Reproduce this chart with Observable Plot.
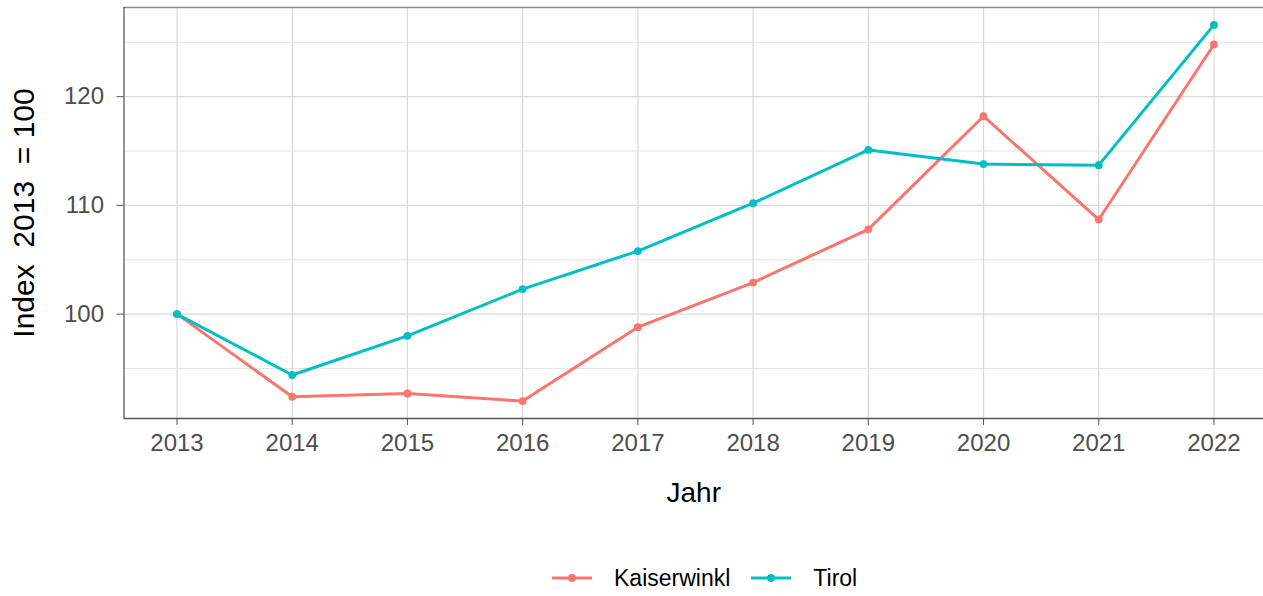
<!DOCTYPE html>
<html>
<head>
<meta charset="utf-8">
<script src="https://cdn.jsdelivr.net/npm/d3@7"></script>
<script src="https://cdn.jsdelivr.net/npm/@observablehq/plot@0.6"></script>
<style>
  html, body { margin: 0; padding: 0; background: #fff; }
  body { position: relative; width: 1263px; height: 596px; overflow: hidden; font-family: "Liberation Sans", Arial, sans-serif; }
  #legend { position: absolute; left: 551px; top: 563px; height: 30px; display: flex; align-items: center; font-size: 23px; color: #000; white-space: nowrap; }
  .item { display: flex; align-items: center; margin-right: 20px; }
  .item svg { margin-right: 21px; display: block; }
</style>
</head>
<body>
<div id="chart"></div>
<div id="legend"></div>
<script>
const years = [2013, 2014, 2015, 2016, 2017, 2018, 2019, 2020, 2021, 2022];
const kaiserwinkl = [100, 92.4, 92.7, 92.0, 98.8, 102.9, 107.8, 118.2, 108.7, 124.8];
const tirol = [100, 94.4, 98.0, 102.3, 105.8, 110.2, 115.1, 113.8, 113.7, 126.6];
const seriesNames = ["Kaiserwinkl", "Tirol"];
const seriesColors = ["#F8766D", "#00BFC4"];
const yMajor = [100, 110, 120];
const yMinor = [95, 105, 115, 125];
const xDomain = [2012.54, 2022.43];
const yDomain = [90.4, 128.2];

const data = [
  ...years.map((y, i) => ({year: y, value: kaiserwinkl[i], series: seriesNames[0]})),
  ...years.map((y, i) => ({year: y, value: tirol[i], series: seriesNames[1]}))
];

const plot = Plot.plot({
  width: 1263,
  height: 540,
  marginLeft: 123.5,
  marginRight: 0,
  marginTop: 7,
  marginBottom: 122,
  style: {fontFamily: "Liberation Sans, Arial, sans-serif", background: "#fff", overflow: "visible"},
  x: {domain: xDomain, label: null},
  y: {domain: yDomain, label: null},
  color: {domain: seriesNames, range: seriesColors},
  marks: [
    Plot.ruleY(yMinor, {stroke: "#e3e3e3", strokeWidth: 1}),
    Plot.ruleY(yMajor, {stroke: "#d9d9d9", strokeWidth: 1.2}),
    Plot.ruleX(years, {stroke: "#d9d9d9", strokeWidth: 1.2}),
    Plot.ruleY([yDomain[1]], {stroke: "#8a8a8a", strokeWidth: 1.3}),
    Plot.ruleX([xDomain[0]], {stroke: "#666", strokeWidth: 1.4}),
    Plot.ruleY([yDomain[0]], {stroke: "#555", strokeWidth: 1.4}),
    Plot.axisX({ticks: years, tickFormat: d => String(d), tickSize: 7, tickPadding: 8, fontSize: 24, color: "#4d4d4d", stroke: "#555", label: null}),
    Plot.axisY({ticks: yMajor, tickSize: 7, tickPadding: 13, fontSize: 24, color: "#4d4d4d", stroke: "#555", label: null}),
    Plot.line(data, {x: "year", y: "value", stroke: "series", strokeWidth: 3}),
    Plot.dot(data, {x: "year", y: "value", fill: "series", r: 3.9}),
    Plot.text(["Jahr"], {frameAnchor: "bottom", lineAnchor: "middle", textAnchor: "middle", dy: 75, fontSize: 28, fill: "#000"}),
    Plot.text(["Index  2013  = 100"], {frameAnchor: "left", textAnchor: "middle", lineAnchor: "middle", dx: -100, rotate: -90, fontSize: 30, fill: "#000"})
  ]
});
document.getElementById("chart").appendChild(plot);

const legend = document.getElementById("legend");
seriesNames.forEach((name, i) => {
  const item = document.createElement("div");
  item.className = "item";
  item.innerHTML = `<svg width="42" height="12"><line x1="1" x2="41" y1="6" y2="6" stroke="${seriesColors[i]}" stroke-width="3"/><circle cx="21" cy="6" r="3.9" fill="${seriesColors[i]}"/></svg><span>${name}</span>`;
  legend.appendChild(item);
});
</script>
</body>
</html>
